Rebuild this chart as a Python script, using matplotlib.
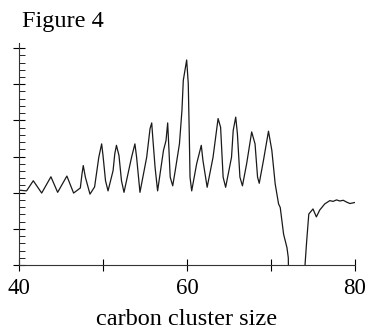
import numpy as np
from matplotlib import pyplot as plt
from matplotlib.ticker import MultipleLocator

plt.rcParams['font.family'] = ['Liberation Serif', 'DejaVu Serif']

# Signal (cluster size vs. relative intensity)
cluster_size = [40.0, 40.9, 41.7, 42.7, 43.8, 44.6, 45.7, 46.5, 47.3, 47.5, 47.65, 47.9,
                48.45, 49.0, 49.5, 49.84, 50.0, 50.3, 50.6, 51.2, 51.4, 51.6, 51.9, 52.2,
                52.5, 53.4, 53.8, 54.0, 54.4, 55.2, 55.6, 55.8, 55.9, 56.2, 56.5, 57.2,
                57.5, 57.7, 57.8, 58.0, 58.3, 58.6, 59.1, 59.4, 59.56, 59.76, 59.96, 60.15,
                60.27, 60.36, 60.56, 61.15, 61.7, 61.9, 62.4, 63.1, 63.7, 64.0, 64.3, 64.6,
                65.3, 65.5, 65.8, 66.0, 66.3, 66.6, 67.1, 67.7, 68.1, 68.4, 68.6, 69.1,
                69.7, 70.1, 70.5, 70.9, 71.1, 71.5, 71.9, 72.06, 72.1, 73.0, 73.9, 74.25,
                74.5, 75.0, 75.4, 75.8, 76.4, 77.0, 77.4, 77.8, 78.2, 78.6, 79.0, 79.4, 80.0]
intensity = [2.07, 2.05, 2.33, 1.99, 2.44, 2.01, 2.46, 1.99, 2.13, 2.52, 2.75, 2.43,
             1.96, 2.16, 2.98, 3.35, 3.03, 2.33, 2.05, 2.61, 3.07, 3.31, 3.03, 2.33,
             2.01, 2.98, 3.35, 2.98, 2.01, 2.98, 3.77, 3.93, 3.6, 2.70, 2.05, 3.17,
             3.44, 3.93, 3.44, 2.43, 2.19, 2.61, 3.35, 4.28, 5.11, 5.39, 5.67, 5.02,
             3.63, 2.43, 2.05, 2.80, 3.31, 2.89, 2.15, 2.98, 4.05, 3.81, 2.43, 2.15,
             2.98, 3.72, 4.09, 3.63, 2.43, 2.19, 2.80, 3.68, 3.35, 2.43, 2.26, 2.89,
             3.70, 3.17, 2.24, 1.69, 1.59, 0.85, 0.48, 0.20, -0.5, -0.5, -0.5, 0.67,
             1.41, 1.55, 1.33, 1.52, 1.69, 1.78, 1.76, 1.80, 1.77, 1.79, 1.74, 1.70, 1.73]

x_ticks = [40, 50, 60, 70, 80]
x_labels = ['40', '', '60', '', '80']

fig = plt.figure(figsize=(3.69, 3.35), dpi=100)
ax = fig.add_axes([19 / 369, 70 / 335, 336 / 369, 222 / 335])

ax.plot(cluster_size, intensity, color='#1a1a1a', lw=0.9)

ax.set_xlim(40, 80)
ax.set_ylim(0, 6.14)
for side in ['top', 'right']:
    ax.spines[side].set_visible(False)
for side in ['left', 'bottom']:
    ax.spines[side].set_linewidth(0.8)
    ax.spines[side].set_color('#333333')

ax.set_xticks(x_ticks)
ax.set_xticklabels(x_labels, fontsize=16.5)
ax.tick_params(axis='x', direction='inout', length=9, width=0.8, pad=5)
ax.yaxis.set_major_locator(MultipleLocator(1))
ax.yaxis.set_minor_locator(MultipleLocator(0.2))
ax.set_yticklabels([])
ax.tick_params(axis='y', which='major', direction='inout', length=9, width=0.8)
ax.tick_params(axis='y', which='minor', direction='in', length=4, width=0.6)

ax.set_xlabel('carbon cluster size', fontsize=17.5, labelpad=7)
fig.text(22 / 369, 1 - 27 / 335, 'Figure 4', fontsize=17.5, ha='left', va='baseline')

plt.savefig('out.png', dpi=100)
